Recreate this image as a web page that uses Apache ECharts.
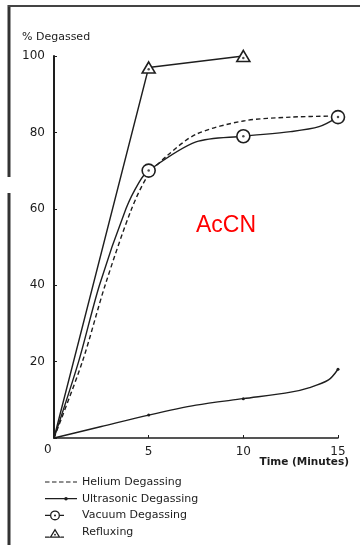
<!DOCTYPE html>
<html>
<head>
<meta charset="utf-8">
<script src="https://cdn.jsdelivr.net/npm/echarts@6/dist/echarts.min.js"></script>
<style>
html,body{margin:0;padding:0;background:#fff;}
#c{width:360px;height:545px;}
</style>
</head>
<body>
<div id="c"></div>
<script>
// ---- data ----
const seriesNames = ['Helium Degassing', 'Ultrasonic Degassing', 'Vacuum Degassing', 'Refluxing'];

const heliumX = [0, 1.5, 2.7, 4.1, 5, 6, 7.5, 10, 12.5, 15];
const heliumY = [0, 20, 40, 60, 69, 74, 79.5, 83, 84, 84.3];

const ultrasonicX = [0, 2.5, 5, 7.5, 10, 12.5, 13.5, 14.5, 15];
const ultrasonicY = [0, 3, 6, 8.6, 10.3, 12, 13.2, 15.2, 18];
const ultrasonicMarkX = [5, 10, 15];

const vacuumX = [0, 1.3, 2.4, 3.8, 4.5, 5, 7.5, 10, 12.5, 14, 15];
const vacuumY = [0, 20, 40, 60, 67, 70, 77.5, 79, 80.2, 81.5, 84];
const vacuumMarkX = [5, 10, 15];

const refluxX = [0, 5, 10];
const refluxY = [0, 97, 100];
const refluxMarkX = [5, 10];

const xTicks = [0, 5, 10, 15];
const yTicks = [0, 20, 40, 60, 80, 100];

// ---- helpers ----
function pairs(xs, ys) { return xs.map((x, i) => [x, ys[i]]); }
function marked(xs, ys, marks) {
  return xs.map((x, i) => marks.includes(x) ? { value: [x, ys[i]] } : { value: [x, ys[i]], symbol: 'none' });
}
function onlyMarks(xs, ys, marks) {
  return xs.map((x, i) => [x, ys[i]]).filter(p => marks.includes(p[0]));
}

const ink = '#1e1e1e';
const txt = '#1c1c1c';
const font = 'DejaVu Sans';

// legend icon shapes (32 x 12 box)
const END = 'M32,6L32,6Z M0,0L0,0Z M0,12L0,12Z';
const iconHelium = 'path://' + END +
  ' M0,5.4h4.5v1.2h-4.5z M7,5.4h4.5v1.2h-4.5z M14,5.4h4.5v1.2h-4.5z M21,5.4h4.5v1.2h-4.5z M28,5.4h4v1.2h-4z';
const iconUltra = 'path://' + END +
  ' M0,5.4h19.5v1.2h-19.5z M22.5,5.4h9.5v1.2h-9.5z M19.2,6 A1.8,1.8 0 1,1 22.8,6 A1.8,1.8 0 1,1 19.2,6 Z';
const iconVacuum = 'path://' + END +
  ' M0,5.4h5v1.2h-5z M15,5.4h4v1.2h-4z' +
  ' M5,6 A5,5 0 1,1 15,6 A5,5 0 1,1 5,6 Z M6.3,6 A3.7,3.7 0 1,0 13.7,6 A3.7,3.7 0 1,0 6.3,6 Z' +
  ' M9,6 A1,1 0 1,1 11,6 A1,1 0 1,1 9,6 Z';
const iconReflux = 'path://' + END +
  ' M0,10.4h4.6v1.2h-4.6z M15.4,10.4h3.6v1.2h-3.6z' +
  ' M10,2.5 L15.6,11.6 L4.4,11.6 Z M10,4.9 L6.6,10.4 L13.4,10.4 Z' +
  ' M9.1,8.6 A0.9,0.9 0 1,1 10.9,8.6 A0.9,0.9 0 1,1 9.1,8.6 Z';

const chart = echarts.init(document.getElementById('c'), null, { renderer: 'canvas' });

chart.setOption({
  backgroundColor: '#ffffff',
  animation: false,
  grid: { left: 54, right: 22, top: 56, bottom: 107 },
  xAxis: {
    type: 'value', min: xTicks[0], max: xTicks[xTicks.length - 1], interval: 5,
    axisLine: { lineStyle: { color: ink, width: 1.5 } },
    axisTick: { show: true, inside: true, length: 3, lineStyle: { color: ink } },
    axisLabel: { color: txt, fontSize: 12, fontFamily: font, margin: 8,
      formatter: v => v === 0 ? '' : String(v) },
    splitLine: { show: false }
  },
  yAxis: {
    type: 'value', min: yTicks[0], max: yTicks[yTicks.length - 1], interval: 20,
    axisLine: { show: true, lineStyle: { color: ink, width: 2 } },
    axisTick: { show: true, inside: true, length: 3, lineStyle: { color: ink } },
    axisLabel: { color: txt, fontSize: 12, fontFamily: font, margin: 9,
      formatter: v => v === 0 ? '' : String(v) },
    splitLine: { show: false }
  },
  legend: {
    data: [
      { name: seriesNames[0], icon: iconHelium, itemStyle: { color: ink, borderWidth: 0 } },
      { name: seriesNames[1], icon: iconUltra, itemStyle: { color: ink, borderWidth: 0 } },
      { name: seriesNames[2], icon: iconVacuum, itemStyle: { color: ink, borderWidth: 0 } },
      { name: seriesNames[3], icon: iconReflux, itemStyle: { color: ink, borderWidth: 0 } }
    ],
    orient: 'vertical',
    left: 45, top: 476, padding: 0, height: 70,
    itemWidth: 32, itemHeight: 12, itemGap: 4.7,
    textStyle: { color: txt, fontSize: 11, fontFamily: font, lineHeight: 12 },
    selectedMode: false
  },
  graphic: [
    { type: 'text', left: 22, top: 32, style: { text: '% Degassed', fontSize: 11, fontFamily: font, fill: txt } },
    { type: 'text', right: 11, top: 457, style: { text: 'Time (Minutes)', fontSize: 10.5, fontFamily: font, fontWeight: 'bold', fill: txt } },
    { type: 'text', left: 44, top: 444, style: { text: '0', fontSize: 12, fontFamily: font, fill: txt } },
    { type: 'text', left: 196, top: 214, style: { text: 'AcCN', fontSize: 23, fontFamily: 'Liberation Sans', fill: '#ff0000' } },
    { type: 'line', shape: { x1: 9, y1: 5, x2: 9, y2: 177 }, style: { stroke: '#333', lineWidth: 3 } },
    { type: 'line', shape: { x1: 9, y1: 193, x2: 9, y2: 545 }, style: { stroke: '#333', lineWidth: 3 } },
    { type: 'line', shape: { x1: 8, y1: 6, x2: 360, y2: 6 }, style: { stroke: '#444', lineWidth: 2 } }
  ],
  series: [
    {
      name: seriesNames[0], type: 'line', smooth: 0.3, showSymbol: false, symbol: 'none',
      data: pairs(heliumX, heliumY),
      lineStyle: { color: ink, width: 1.4, type: [4.5, 3] },
      itemStyle: { color: ink }, z: 2
    },
    {
      name: seriesNames[1], type: 'line', smooth: 0.3, symbol: 'circle', symbolSize: 3,
      data: marked(ultrasonicX, ultrasonicY, ultrasonicMarkX),
      lineStyle: { color: ink, width: 1.4 },
      itemStyle: { color: ink }, z: 2
    },
    {
      name: seriesNames[2], type: 'line', smooth: 0.3, symbol: 'circle', symbolSize: 13,
      data: marked(vacuumX, vacuumY, vacuumMarkX),
      lineStyle: { color: ink, width: 1.4 },
      itemStyle: { color: '#fff', borderColor: ink, borderWidth: 1.6 }, z: 3, clip: false
    },
    {
      name: seriesNames[3], type: 'line', smooth: false, symbol: 'triangle', symbolSize: [13, 11],
      data: marked(refluxX, refluxY, refluxMarkX),
      lineStyle: { color: ink, width: 1.4 },
      itemStyle: { color: '#fff', borderColor: ink, borderWidth: 1.6 }, z: 3, clip: false
    },
    {
      name: 'dots', type: 'scatter', symbol: 'circle', symbolSize: 2.5,
      data: onlyMarks(vacuumX, vacuumY, vacuumMarkX).concat(onlyMarks(refluxX, refluxY, refluxMarkX).map(p => [p[0], p[1] - 0.5])),
      itemStyle: { color: ink }, z: 5, clip: false, silent: true
    }
  ]
});
</script>
</body>
</html>
